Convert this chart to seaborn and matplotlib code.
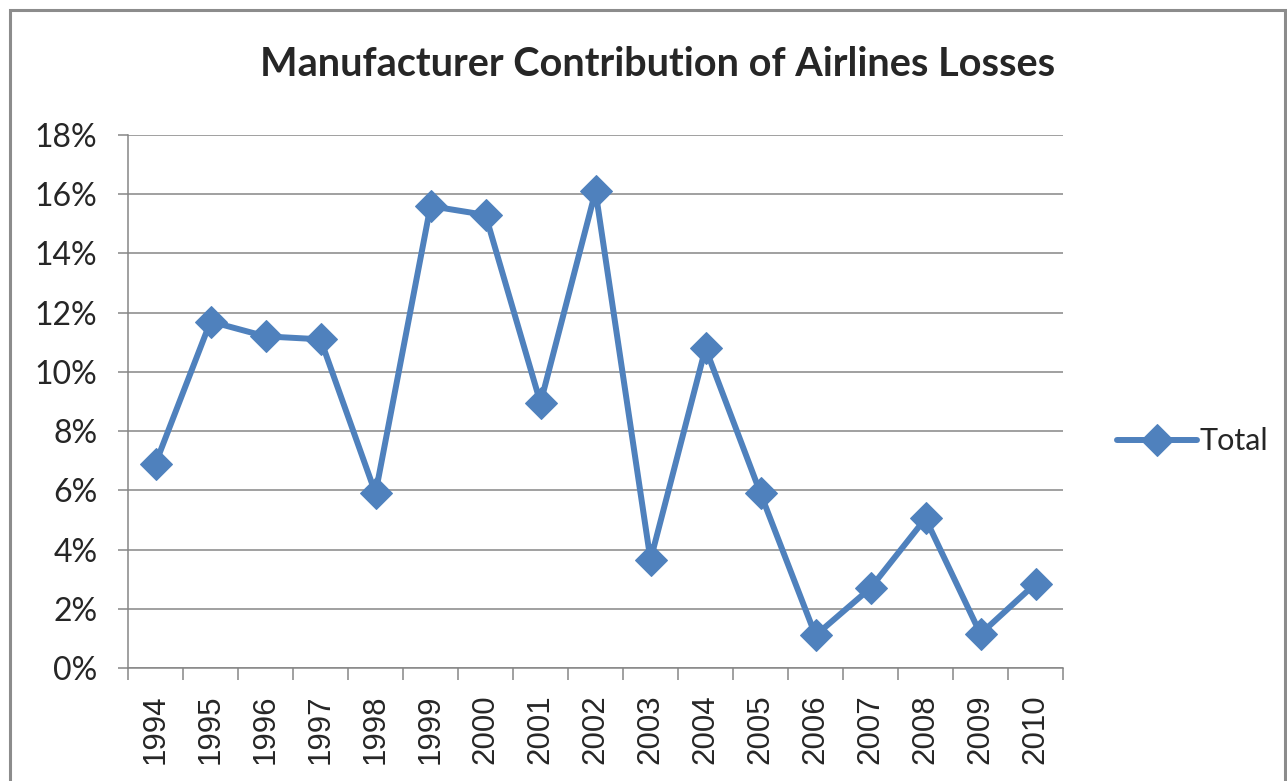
import matplotlib
matplotlib.use("Agg")
import matplotlib.pyplot as plt
import matplotlib.patches as mpatches
from matplotlib.ticker import FixedLocator, FuncFormatter
import seaborn as sns
import pandas as pd

# Data
years = ["1994", "1995", "1996", "1997", "1998", "1999", "2000", "2001", "2002",
         "2003", "2004", "2005", "2006", "2007", "2008", "2009", "2010"]
share = [6.9, 11.7, 11.2, 11.1, 5.9, 15.6, 15.3, 8.95, 16.1,
         3.65, 10.8, 5.9, 1.1, 2.7, 5.05, 1.15, 2.85]
y_ticks = [0, 2, 4, 6, 8, 10, 12, 14, 16, 18]

df = pd.DataFrame({"Year": years, "Share": share})

sns.set_style("white")
plt.rcParams["font.family"] = ["Lato", "DejaVu Sans"]

fig = plt.figure(figsize=(12.87, 7.81), dpi=100)
ax = fig.add_axes([128 / 1287, 1 - 668 / 781, (1063 - 128) / 1287, (668 - 135) / 781])

blue = "#4F81BD"
grid_c = "#868686"

sns.lineplot(data=df, x="Year", y="Share", ax=ax, color=blue, linewidth=4.3,
             marker="D", markersize=16, markeredgecolor=blue, sort=False,
             label="Total")

ax.set_xlim(-0.5, len(years) - 0.5)
ax.set_ylim(0, 18)
ax.set_yticks(y_ticks)
ax.yaxis.set_major_formatter(FuncFormatter(lambda v, p: f"{v:.0f}%"))
ax.yaxis.grid(True, color=grid_c, linewidth=1.1)
ax.set_axisbelow(True)

ax.set_xticks(range(len(years)))
ax.set_xticklabels(years)
ax.xaxis.set_minor_locator(FixedLocator([i - 0.5 for i in range(len(years) + 1)]))
ax.tick_params(axis="x", which="major", length=0, pad=19, labelsize=22.5,
               labelrotation=90)
for lbl in ax.get_xticklabels():
    lbl.set_family("Liberation Sans")
ax.tick_params(axis="x", which="minor", length=8.6, width=1.1, color=grid_c, bottom=True)
ax.tick_params(axis="y", which="major", length=7, width=1.1, color=grid_c, left=True,
               labelsize=23, pad=15)

for s in ["top", "right"]:
    ax.spines[s].set_visible(False)
for s in ["left", "bottom"]:
    ax.spines[s].set_color(grid_c)
    ax.spines[s].set_linewidth(1.1)

ax.set_xlabel("")
ax.set_ylabel("")

fig.text(0.5 * (258 + 1057) / 1287, 1 - 65 / 781, "Manufacturer Contribution of Airlines Losses",
         ha="center", va="center", fontsize=28.5, fontweight="bold")

ax.legend(loc="center left", bbox_to_anchor=(1.045, 0.425), frameon=False,
          fontsize=22, handlelength=2.6, handletextpad=0.1, borderaxespad=0)

fig.patches.append(mpatches.Rectangle((10 / 1287, -0.1), 1275 / 1287, 1.1 - 10 / 781,
                                      transform=fig.transFigure, fill=False,
                                      edgecolor="#8c8c8c", linewidth=2.2))

fig.savefig("out.png", dpi=100)
